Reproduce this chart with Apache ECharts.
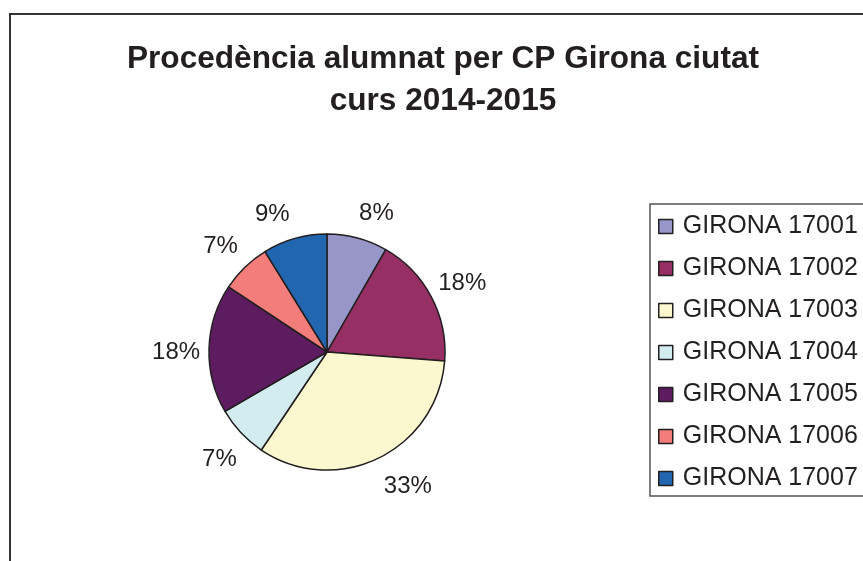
<!DOCTYPE html>
<html>
<head>
<meta charset="utf-8">
<script src="https://cdn.jsdelivr.net/npm/echarts@6/dist/echarts.min.js"></script>
<style>
html,body{margin:0;padding:0;background:#fff;}
#c{width:863px;height:561px;}
</style>
</head>
<body>
<div id="c"></div>
<script>
const categories = ['GIRONA 17001','GIRONA 17002','GIRONA 17003','GIRONA 17004','GIRONA 17005','GIRONA 17006','GIRONA 17007'];
const shares = [8.3, 17.9, 33.2, 7.2, 17.7, 6.9, 8.8];
const colors = ['#9696c8','#962f64','#fbf8cf','#d2ecf0','#5e1c60','#f37d7b','#2266b0'];
const titleLines = ['Procedència alumnat per CP Girona ciutat', 'curs 2014-2015'];

const FONT = '"Liberation Sans", Arial, sans-serif';
// small label nudges (style only), mimicking the spreadsheet's label placement
const labelNudge = [[10, 9], [0, 3], [14, -3], [4, 3], [2, 5], [0, 4], [-13, 10]];
const data = categories.map((n, i) => ({ name: n, value: shares[i], itemStyle: { color: colors[i] } }));

const chart = echarts.init(document.getElementById('c'), null, { renderer: 'canvas' });
chart.setOption({
  backgroundColor: '#ffffff',
  animation: false,
  graphic: [{
    type: 'rect',
    shape: { x: 10, y: 14, width: 900, height: 600 },
    style: { fill: 'none', stroke: '#333333', lineWidth: 2 },
    silent: true, z: -10
  }],
  title: {
    text: titleLines.join('\n'),
    left: 438, top: 33, textAlign: 'center',
    textStyle: { fontFamily: FONT, fontWeight: 'bold', fontSize: 31.6, lineHeight: 42, color: '#231f20' }
  },
  legend: {
    orient: 'vertical',
    left: 650, top: 204,
    padding: [10, 40, 5, 8],
    borderColor: '#555555', borderWidth: 1.5,
    itemWidth: 14, itemHeight: 14, itemGap: 17,
    icon: 'rect',
    data: categories,
    itemStyle: { borderColor: '#231f20', borderWidth: 1.5 },
    textStyle: { fontFamily: FONT, fontSize: 25, lineHeight: 24, color: '#231f20', padding: [0, 0, 0, 5] }
  },
  series: [{
    type: 'pie',
    center: [327, 352], radius: [0, 118],
    startAngle: 90, clockwise: true,
    data: data,
    label: { show: false }, labelLine: { show: false },
    itemStyle: { borderColor: '#231f20', borderWidth: 1.5 },
    silent: true
  }, {
    type: 'pie',
    center: [327, 352], radius: [0, 300],
    startAngle: 90, clockwise: true,
    percentPrecision: 0,
    data: data.map((d, i) => ({
      name: d.name, value: d.value,
      itemStyle: { color: 'rgba(0,0,0,0)' },
      label: { offset: labelNudge[i] }
    })),
    itemStyle: { borderWidth: 0 },
    label: { show: true, position: 'inside', formatter: '{d}%', fontFamily: FONT, fontSize: 24, color: '#231f20' },
    labelLine: { show: false },
    emphasis: { disabled: true },
    silent: true, z: 1
  }]
});
</script>
</body>
</html>
